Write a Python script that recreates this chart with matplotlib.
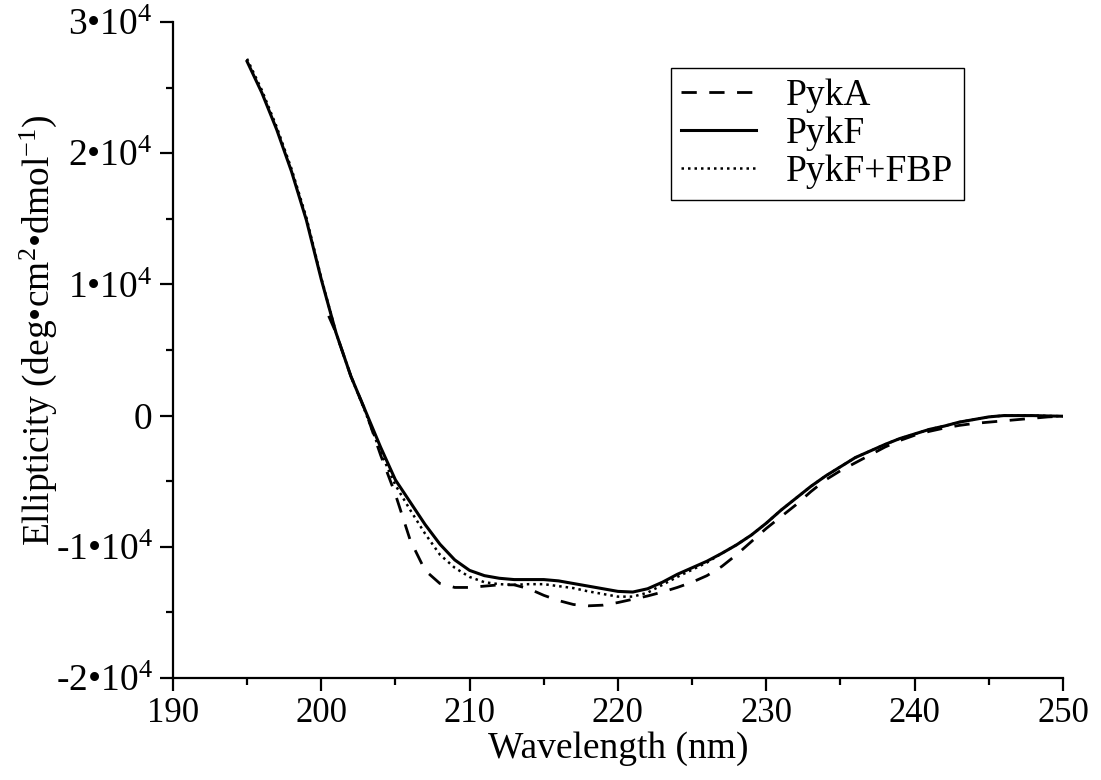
import matplotlib
matplotlib.use("Agg")
import matplotlib.pyplot as plt
import numpy as np

# wavelength (nm) and ellipticity (x1000 deg cm2 dmol-1)
wl_pykf = np.arange(195, 251, 1)
pykf = [27.0, 24.6, 21.8, 18.6, 14.9, 10.4, 6.3, 3.0, 0.3, -2.4,
        -4.9, -6.6, -8.3, -9.8, -11.0, -11.8, -12.2, -12.4, -12.5, -12.5,
        -12.5, -12.6, -12.8, -13.0, -13.2, -13.4, -13.45, -13.2, -12.7, -12.1,
        -11.6, -11.1, -10.5, -9.85, -9.1, -8.2, -7.2, -6.3, -5.4, -4.6,
        -3.9, -3.2, -2.7, -2.2, -1.75, -1.4, -1.05, -0.8, -0.5, -0.3,
        -0.1, 0.0, 0.0, 0.0, -0.03, -0.05]

wl_fbp = np.arange(195, 251, 1)
pykf_fbp = [27.2, 24.8, 22.0, 18.8, 15.1, 10.5, 6.3, 3.0, 0.2, -2.8,
            -5.3, -7.2, -9.0, -10.6, -11.6, -12.3, -12.7, -12.85, -12.9, -12.85,
            -12.85, -13.0, -13.15, -13.4, -13.6, -13.8, -13.8, -13.5, -12.9, -12.3,
            -11.75, -11.2, -10.5, -9.85, -9.1, -8.2, -7.2, -6.3, -5.4, -4.6,
            -3.9, -3.2, -2.7, -2.2, -1.75, -1.4, -1.05, -0.8, -0.5, -0.3,
            -0.1, 0.0, 0.0, 0.0, -0.03, -0.05]

wl_pyka = np.concatenate(([200.5], np.arange(201, 251, 1)))
pyka = [7.6, 6.3, 3.0, 0.3, -3.0, -6.0, -9.5, -11.8, -12.8, -13.1,
        -13.1, -13.0, -12.9, -12.9, -13.2, -13.7, -14.1, -14.4, -14.5, -14.45,
        -14.25, -14.0, -13.75, -13.45, -13.1, -12.7, -12.2, -11.5, -10.6, -9.6,
        -8.6, -7.7, -6.8, -5.8, -4.9, -4.2, -3.6, -3.0, -2.4, -1.9,
        -1.5, -1.2, -0.95, -0.75, -0.6, -0.5, -0.4, -0.3, -0.2, -0.1,
        -0.05]

xticks = [190, 200, 210, 220, 230, 240, 250]
yticks = [-20000, -10000, 0, 10000, 20000, 30000]
ytick_labels = ["-2•10$^{4}$", "-1•10$^{4}$", "0", "1•10$^{4}$", "2•10$^{4}$", "3•10$^{4}$"]


def main():
    plt.rcParams['font.family'] = ['Liberation Serif', 'DejaVu Serif']
    plt.rcParams['mathtext.fontset'] = 'custom'
    plt.rcParams['mathtext.rm'] = 'Liberation Serif'
    plt.rcParams['mathtext.it'] = 'Liberation Serif:italic'

    fig = plt.figure(figsize=(11.01, 7.8), dpi=100)
    ax = fig.add_axes([0.157, 0.1308, 0.8085, 0.841])

    ax.plot(wl_pyka, np.array(pyka) * 1000, color="black", lw=2,
            linestyle=(0, (5.5, 4.5)), label="PykA")
    ax.plot(wl_pykf, np.array(pykf) * 1000, color="black", lw=2.2,
            linestyle="-", label="PykF")
    ax.plot(wl_fbp, np.array(pykf_fbp) * 1000, color="black", lw=1.8,
            linestyle=(0, (1, 1.6)), label="PykF+FBP")

    ax.set_xlim(190, 250)
    ax.set_ylim(-20000, 30000)
    ax.set_xticks(xticks)
    ax.set_yticks(yticks, ytick_labels)
    ax.xaxis.set_minor_locator(plt.MultipleLocator(5))
    ax.yaxis.set_minor_locator(plt.MultipleLocator(5000))

    for side in ["top", "right"]:
        ax.spines[side].set_visible(False)
    for side in ["left", "bottom"]:
        ax.spines[side].set_linewidth(1.6)

    ax.tick_params(which='major', direction='out', length=9.5, width=1.6, pad=5)
    ax.tick_params(which='minor', direction='out', length=5, width=1.6)
    ax.tick_params(axis='x', labelsize=25, pad=4)
    ax.tick_params(axis='y', labelsize=27)

    ax.set_xlabel("Wavelength (nm)", fontsize=27, labelpad=1)
    ax.set_ylabel("Ellipticity (deg•cm$^{2}$•dmol$^{-1}$)", fontsize=27)
    ax.yaxis.set_label_coords(-0.128, 0.53)

    leg = ax.legend(loc="upper left", bbox_to_anchor=(0.609, 0.913),
                    bbox_transform=fig.transFigure, fontsize=27,
                    fancybox=False, framealpha=1, edgecolor="black",
                    handlelength=2.0, handletextpad=0.8, borderpad=0.28,
                    borderaxespad=0, labelspacing=0.1)
    leg.get_frame().set_linewidth(1.0)

    fig.savefig("out.png", dpi=100)


if __name__ == "__main__":
    main()
